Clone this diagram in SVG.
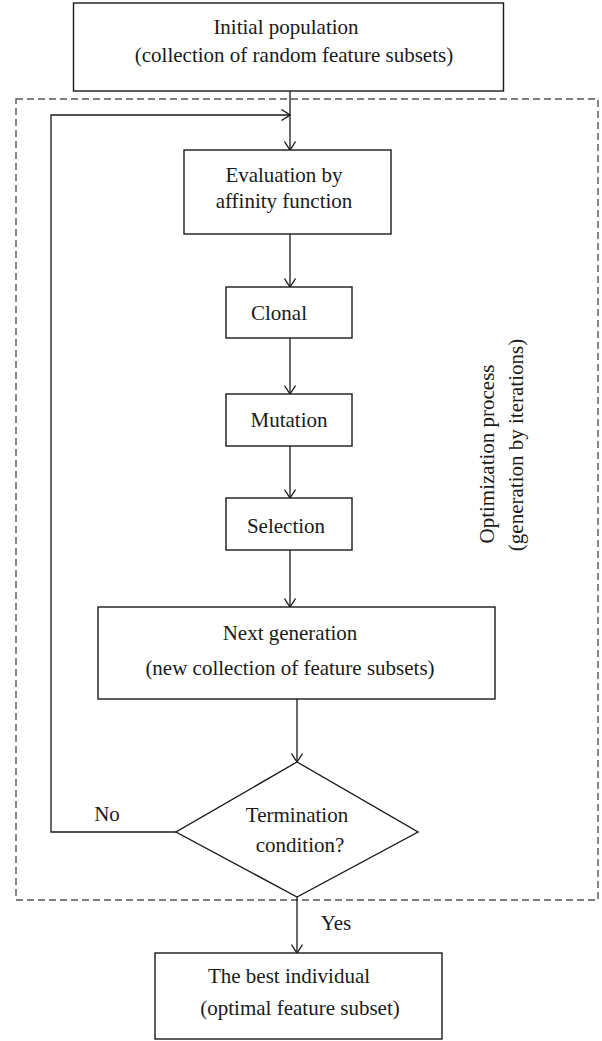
<svg xmlns="http://www.w3.org/2000/svg" width="602" height="1041" viewBox="0 0 602 1041">
<style>
.box{fill:#fff;stroke:#1a1a1a;stroke-width:1.4}
.t{font-family:"Liberation Serif","Times New Roman",serif;font-size:21px;fill:#1a1a1a;text-anchor:middle}
.c{fill:none;stroke:#1a1a1a;stroke-width:1.3}
.dash{fill:none;stroke:#555;stroke-width:1.4;stroke-dasharray:7 4}
</style>
<defs>
<marker id="arr" markerUnits="userSpaceOnUse" viewBox="0 0 10 12" refX="9.5" refY="6" markerWidth="10" markerHeight="12" orient="auto">
<path d="M1,0.5 L9.5,6 L1,11.5" fill="none" stroke="#1a1a1a" stroke-width="1.3"/>
</marker>
</defs>
<rect width="602" height="1041" fill="#fff"/>
<g id="process-frame">
<rect class="dash" x="16" y="99" width="582" height="801"/>
<text class="t" transform="translate(494,454) rotate(-90)">Optimization process</text>
<text class="t" transform="translate(523,445) rotate(-90)">(generation by iterations)</text>
</g>
<g id="connectors">
<line class="c" x1="290" y1="91" x2="290" y2="150" marker-end="url(#arr)"/>
<polyline class="c" points="176,832 51,832 51,115 290,115" marker-end="url(#arr)"/>
<line class="c" x1="290" y1="234" x2="290" y2="287" marker-end="url(#arr)"/>
<line class="c" x1="290" y1="338" x2="290" y2="394" marker-end="url(#arr)"/>
<line class="c" x1="290" y1="446" x2="290" y2="498" marker-end="url(#arr)"/>
<line class="c" x1="290" y1="550" x2="290" y2="607" marker-end="url(#arr)"/>
<line class="c" x1="297" y1="699" x2="297" y2="762" marker-end="url(#arr)"/>
<line class="c" x1="297" y1="897" x2="297" y2="953" marker-end="url(#arr)"/>
<text class="t" x="107" y="821">No</text>
<text class="t" x="336" y="930">Yes</text>
</g>
<g id="initial">
<rect class="box" x="73.5" y="3" width="430" height="88"/>
<text class="t" x="286" y="34">Initial population</text>
<text class="t" x="294" y="62">(collection of random feature subsets)</text>
</g>
<g id="evaluation">
<rect class="box" x="184" y="150" width="207" height="84"/>
<text class="t" x="284" y="182">Evaluation by</text>
<text class="t" x="284" y="208">affinity function</text>
</g>
<g id="clonal">
<rect class="box" x="226" y="287" width="126" height="51"/>
<text class="t" x="279" y="320">Clonal</text>
</g>
<g id="mutation">
<rect class="box" x="226" y="394" width="126" height="52"/>
<text class="t" x="289" y="427">Mutation</text>
</g>
<g id="selection">
<rect class="box" x="226" y="498" width="126" height="52"/>
<text class="t" x="286" y="533">Selection</text>
</g>
<g id="next-generation">
<rect class="box" x="98" y="607" width="397" height="92"/>
<text class="t" x="290" y="640">Next generation</text>
<text class="t" x="290" y="675">(new collection of feature subsets)</text>
</g>
<g id="termination">
<polygon class="box" points="297,762 418,832 297,897 176,832"/>
<text class="t" x="297" y="822">Termination</text>
<text class="t" x="300" y="852">condition?</text>
</g>
<g id="best">
<rect class="box" x="155" y="953" width="287" height="86"/>
<text class="t" x="289" y="983">The best individual</text>
<text class="t" x="300" y="1015">(optimal feature subset)</text>
</g>
</svg>
